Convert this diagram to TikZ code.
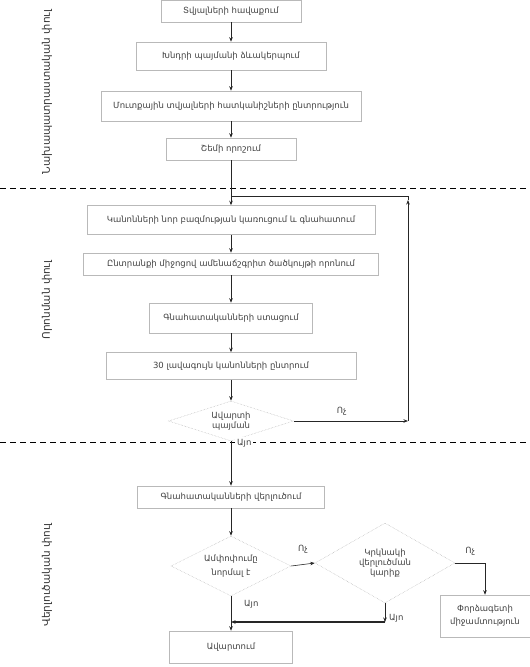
\documentclass[tikz,border=0pt]{standalone}
\usepackage{fontspec}
\setmainfont{DejaVu Sans}
\usetikzlibrary{shapes.geometric,arrows.meta}
\begin{document}
\begin{tikzpicture}[x=1pt,y=-1pt,
  txt/.style={font=\fontsize{8.5}{10}\selectfont, text=black!75},
  box/.style={txt, draw=gray!55, line width=0.5pt, inner sep=2pt, align=center},
  dec/.style={txt, diamond, draw=gray!60, densely dotted, line width=0.5pt, inner sep=0pt, align=center},
  phase/.style={rotate=90, font=\fontsize{10.5}{12}\selectfont, text=black!80},
  conn/.style={draw=black!85, line width=0.6pt, -{Stealth[length=4.5pt,width=3.5pt]}},
  plain/.style={draw=black!85, line width=0.6pt},
  sep/.style={draw=black, line width=1pt, dash pattern=on 6pt off 4pt},
  lab/.style={txt, inner sep=1pt}]
\useasboundingbox (0,0) rectangle (530,667);

% phase labels
\node[phase] (p1) at (47,92) {Նախապատրաստական փուլ};
\node[phase] (p2) at (47,300) {Որոնման փուլ};
\node[phase] (p3) at (47,575) {Վերլուծական փուլ};

% separators
\coordinate (s1a) at (0,188); \coordinate (s1b) at (530,188);
\coordinate (s2a) at (0,442); \coordinate (s2b) at (530,442);
\draw[sep] (s1a) -- (s1b);
\draw[sep] (s2a) -- (s2b);

% preparation phase
\node[box, minimum width=140pt, minimum height=22pt] (b1) at (231,11) {Տվյալների հավաքում};
\node[box, minimum width=190pt, minimum height=28pt] (b2) at (231,56) {Խնդրի պայմանի ձևակերպում};
\node[box, minimum width=260pt, minimum height=30pt] (b3) at (231,106) {Մուտքային տվյալների հատկանիշների ընտրություն};
\node[box, minimum width=130pt, minimum height=22pt] (b4) at (231,149) {Շեմի որոշում};

% search phase
\node[box, minimum width=288pt, minimum height=29pt] (b5) at (231,220) {Կանոնների նոր բազմության կառուցում և գնահատում};
\node[box, minimum width=295pt, minimum height=22pt] (b6) at (231,264) {Ընտրանքի միջոցով ամենաճշգրիտ ծածկույթի որոնում};
\node[box, minimum width=163pt, minimum height=30pt] (b7) at (231,318) {Գնահատականների ստացում};
\node[box, minimum width=250pt, minimum height=27pt] (b8) at (231,366) {30 լավագույն կանոնների ընտրում};
\node[dec, aspect=3, minimum width=125pt, minimum height=40pt] (d1) at (231,421) {Ավարտի\\պայման};

% analysis phase
\node[box, minimum width=187pt, minimum height=22pt] (b10) at (231,497) {Գնահատականների վերլուծում};
\node[dec, aspect=2, minimum width=120pt, minimum height=60pt] (d2) at (231,566) {Ամփոփումը\\[4pt]նորմալ է};
\node[dec, aspect=1.75, minimum width=140pt, minimum height=80pt] (d3) at (385,563) {Կրկնակի\\վերլուծման\\կարիք};
\node[box, minimum width=90pt, minimum height=42pt] (b13) at (485,616) {Փորձագետի\\[3pt]միջամտություն};
\node[box, minimum width=123pt, minimum height=32pt] (b14) at (231,647) {Ավարտում};

% connectors: preparation
\draw[conn] (b1) -- (b2);
\draw[conn] (b2) -- (b3);
\draw[conn] (b3) -- (b4);
\draw[conn] (b4) -- (b5);

% search
\draw[conn] (b5) -- (b6);
\draw[conn] (b6) -- (b7);
\draw[conn] (b7) -- (b8);
\draw[conn] (b8) -- (d1);

% loop back
\coordinate (r1) at (408,421);
\coordinate (r2) at (408,200);
\coordinate (r3) at (408,196);
\coordinate (j1) at (231,196);
\draw[conn, line width=0.9pt] (d1.east) -- node[lab, above, pos=0.42, yshift=4pt] (no1) {Ոչ} (r1);
\draw[conn] (r1) -- (r2);
\draw[plain, line width=0.9pt] (r2) -- (r3) -- (j1);

% yes from d1
\draw[conn] (d1) -- (b10);
\node[lab, anchor=west, fill=white, inner sep=2pt] (yes1) at (235,443) {Այո};

% analysis
\draw[conn] (b10) -- (d2);
\draw[conn] (d2.east) -- node[lab, above, yshift=10pt] (no2) {Ոչ} (d3.west);
\coordinate (c3) at (485,563);
\draw[plain] (d3.east) -- node[lab, above, yshift=6pt] (no3) {Ոչ} (c3);
\draw[conn] (c3) -- (b13);

\coordinate (m1) at (385,622);
\coordinate (m2) at (231,622);
\draw[conn] (d3.south) -- (m1);
\node[lab, anchor=west] (yes3) at (388,618) {Այո};
\draw[conn, line width=1.1pt] (m1) -- (m2);

\draw[conn] (d2.south) -- (b14.north);
\node[lab, anchor=west] (yes2) at (243,604) {Այո};
\end{tikzpicture}
\end{document}
